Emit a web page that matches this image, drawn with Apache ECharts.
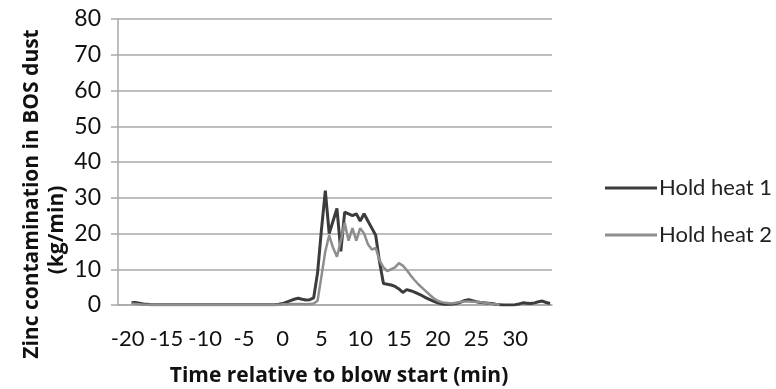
<!DOCTYPE html>
<html>
<head>
<meta charset="utf-8">
<title>Zinc contamination in BOS dust</title>
<script src="https://cdn.jsdelivr.net/npm/echarts@6/dist/echarts.min.js"></script>
<style>
  html, body { margin: 0; padding: 0; background: #fff; }
  #chart { width: 776px; height: 389px; }
</style>
</head>
<body>
<div id="chart"></div>
<script>
// Time relative to blow start (min), half-minute samples
const minutes = [
  -21, -20.5, -20, -19.5, -19, -18.5, -18, -17.5, -17, -16.5,
  -16, -15.5, -15, -14.5, -14, -13.5, -13, -12.5, -12, -11.5,
  -11, -10.5, -10, -9.5, -9, -8.5, -8, -7.5, -7, -6.5,
  -6, -5.5, -5, -4.5, -4, -3.5, -3, -2.5, -2, -1.5,
  -1, -0.5, 0, 0.5, 1, 1.5, 2, 2.5, 3, 3.5,
  4, 4.5, 5, 5.5, 6, 6.5, 7, 7.5, 8, 8.5,
  9, 9.5, 10, 10.5, 11, 11.5, 12, 12.5, 13, 13.5,
  14, 14.5, 15, 15.5, 16, 16.5, 17, 17.5, 18, 18.5,
  19, 19.5, 20, 20.5, 21, 21.5, 22, 22.5, 23, 23.5,
  24, 24.5, 25, 25.5, 26, 26.5, 27, 27.5, 28, 28.5,
  29, 29.5, 30, 30.5, 31, 31.5, 32, 32.5, 33, 33.5,
  34, 34.5
];

// Zinc contamination (kg/min), hold heat 1
const holdHeat1 = [
  null, null, null, 0.7, 0.7, 0.5, 0.3, 0.2, 0.1, 0.1,
  0.1, 0.1, 0.1, 0.1, 0.1, 0.1, 0.1, 0.1, 0.1, 0.1,
  0.1, 0.1, 0.1, 0.1, 0.1, 0.1, 0.1, 0.1, 0.1, 0.1,
  0.1, 0.1, 0.1, 0.1, 0.1, 0.1, 0.1, 0.1, 0.1, 0.1,
  0.1, 0.2, 0.4, 0.8, 1.2, 1.6, 1.9, 1.6, 1.4, 1.5,
  2.0, 9, 21, 32, 20, 23.5, 27, 15, 26, 25.5,
  25, 25.5, 23.5, 25.5, 23.5, 21.5, 19.5, 12, 6, 5.8,
  5.6, 5.2, 4.5, 3.5, 4.3, 4.0, 3.6, 3.1, 2.6, 2.0,
  1.5, 1.0, 0.6, 0.3, 0.2, 0.2, 0.3, 0.5, 0.8, 1.3,
  1.5, 1.2, 0.9, 0.7, 0.6, 0.5, 0.4, 0.2, 0.1, 0,
  0, 0, 0.1, 0.3, 0.6, 0.5, 0.4, 0.6, 0.9, 1.1,
  0.7, 0.4
];

// Zinc contamination (kg/min), hold heat 2
const holdHeat2 = [
  null, null, null, 0.4, 0.3, 0.2, 0.1, 0.1, 0.1, 0.1,
  0.1, 0.1, 0.1, 0.1, 0.1, 0.1, 0.1, 0.1, 0.1, 0.1,
  0.1, 0.1, 0.1, 0.1, 0.1, 0.1, 0.1, 0.1, 0.1, 0.1,
  0.1, 0.1, 0.1, 0.1, 0.1, 0.1, 0.1, 0.1, 0.1, 0.1,
  0.1, 0.1, 0.2, 0.2, 0.3, 0.3, 0.3, 0.3, 0.2, 0.3,
  0.4, 1.2, 8, 15, 19.5, 16, 13.5, 18, 23, 18,
  21.5, 18, 21.5, 20, 17, 15.5, 16, 12.5, 10.5, 9.5,
  10, 10.5, 11.7, 11, 9.8, 8.3, 7, 5.8, 4.8, 3.8,
  2.8, 1.9, 1.2, 0.8, 0.6, 0.5, 0.5, 0.7, 0.9, 1.0,
  1.0, 0.9, 0.9, 0.8, 0.6, 0.5, 0.3, 0.2, 0.1, null,
  null, null, null, null, null, null, null, null, null, null,
  null, null
];

const seriesNames = ['Hold heat 1', 'Hold heat 2'];
const seriesColors = ['#3c3c3c', '#8e8e8e'];
const yTitle = 'Zinc contamination in BOS dust';
const yUnit = '(kg/min)';
const xTitle = 'Time relative to blow start (min)';

const FONT = 'Lato';
const TITLE_FONT = 'bold 21px "Open Sans"';
const gridColor = '#a9a9a9';

const chart = echarts.init(document.getElementById('chart'), null, { renderer: 'canvas' });

chart.setOption({
  animation: false,
  backgroundColor: '#ffffff',
  textStyle: { fontFamily: FONT },
  grid: { left: 118, right: 224, top: 19, bottom: 84, containLabel: false },
  xAxis: {
    type: 'category',
    data: minutes,
    boundaryGap: true,
    axisLine: { show: true, lineStyle: { color: gridColor, width: 1.5 } },
    axisTick: { show: false },
    axisLabel: {
      interval: (idx, val) => Number(val) % 5 === 0,
      formatter: (val) => String(Number(val)),
      color: '#111',
      fontSize: 22,
      fontFamily: FONT,
      margin: 23
    },
    splitLine: { show: false }
  },
  yAxis: {
    type: 'value',
    min: 0,
    max: 80,
    interval: 10,
    axisLine: { show: true, lineStyle: { color: gridColor, width: 1.5 } },
    axisTick: { show: true, length: 7, lineStyle: { color: gridColor, width: 1.5 } },
    axisLabel: { color: '#111', fontSize: 23, fontFamily: FONT, margin: 17 },
    splitLine: { show: true, lineStyle: { color: gridColor, width: 1.5 } }
  },
  legend: {
    orient: 'vertical',
    left: 600,
    top: 172,
    itemWidth: 52,
    itemHeight: 3,
    itemGap: 25,
    icon: 'rect',
    textStyle: { color: '#222', fontSize: 22, fontFamily: FONT, padding: [0, 0, 0, -3] },
    data: seriesNames
  },
  graphic: [
    {
      type: 'text',
      x: 32, y: 194,
      rotation: Math.PI / 2,
      style: {
        text: yTitle, fill: '#111', font: TITLE_FONT,
        align: 'center', verticalAlign: 'middle'
      }
    },
    {
      type: 'text',
      x: 57, y: 230,
      rotation: Math.PI / 2,
      style: {
        text: yUnit, fill: '#111', font: TITLE_FONT,
        align: 'center', verticalAlign: 'middle'
      }
    },
    {
      type: 'text',
      x: 339, y: 376,
      style: {
        text: xTitle, fill: '#111', font: TITLE_FONT,
        align: 'center', verticalAlign: 'middle'
      }
    }
  ],
  series: [
    {
      name: seriesNames[0],
      type: 'line',
      data: holdHeat1,
      symbol: 'none',
      connectNulls: false,
      color: seriesColors[0],
      lineStyle: { color: seriesColors[0], width: 3 }
    },
    {
      name: seriesNames[1],
      type: 'line',
      data: holdHeat2,
      symbol: 'none',
      connectNulls: false,
      color: seriesColors[1],
      lineStyle: { color: seriesColors[1], width: 2.5 }
    }
  ]
});
</script>
</body>
</html>
